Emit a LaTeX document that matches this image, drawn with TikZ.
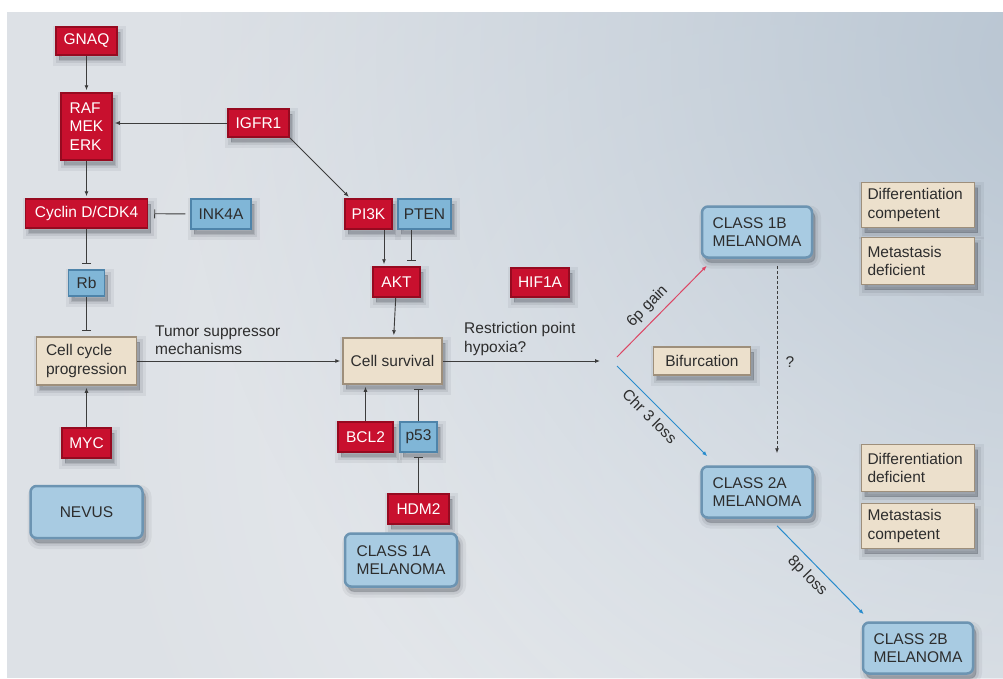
\documentclass[tikz,border=0pt]{standalone}
\usepackage{fontspec}
\setmainfont{Liberation Sans}
\usetikzlibrary{arrows.meta,fadings}

\definecolor{bgc}{RGB}{221,225,230}
\definecolor{bgtr}{RGB}{184,197,210}
\definecolor{redf}{RGB}{200,16,46}
\definecolor{redd}{RGB}{150,10,32}
\definecolor{bluef}{RGB}{128,182,215}
\definecolor{blued}{RGB}{78,132,170}
\definecolor{melf}{RGB}{168,203,226}
\definecolor{meld}{RGB}{108,148,178}
\definecolor{beigef}{RGB}{236,224,204}
\definecolor{beiged}{RGB}{158,143,123}
\definecolor{txt}{RGB}{45,45,45}
\definecolor{linec}{RGB}{60,60,60}
\definecolor{pinkl}{RGB}{220,70,100}
\definecolor{bluel}{RGB}{40,140,205}
\definecolor{shc}{RGB}{60,65,75}

\tikzfading[name=glowfade, inner color=transparent!0, outer color=transparent!100]

\tikzset{
  softshadow/.style={
    preaction={fill=shc, draw=shc, opacity=0.07, line width=12pt, transform canvas={shift={(3pt,-5pt)}}},
    preaction={fill=shc, draw=shc, opacity=0.10, line width=6pt, transform canvas={shift={(3pt,-5pt)}}},
    preaction={fill=shc, draw=shc, opacity=0.14, line width=1pt, transform canvas={shift={(3pt,-5pt)}}}},
  box/.style={rectangle, align=left, inner sep=2pt, line width=1.5pt, softshadow},
  redbox/.style={box, fill=redf, draw=redd, text=white},
  bluebox/.style={box, fill=bluef, draw=blued, text=txt},
  beigebox/.style={box, fill=beigef, draw=beiged, text=txt},
  propbox/.style={beigebox, inner xsep=6pt, text width=101pt},
  melbox/.style={box, fill=melf, draw=meld, text=txt, rounded corners=6pt, line width=2.5pt},
  lbl/.style={text=txt, align=left, inner sep=0pt},
  arr/.style={draw=linec, line width=0.9pt, -{Latex[length=5pt,width=4pt]}, shorten >=2pt},
  inh/.style={draw=linec, line width=0.9pt, -{Bar[width=9pt,line width=0.9pt]}, shorten >=5pt},
  slab/.style={text=txt, sloped, inner sep=2pt}
}

\begin{document}
\begin{tikzpicture}[x=1pt,y=-1pt, font=\fontsize{15.5}{18.5}\selectfont]
\useasboundingbox (0,0) rectangle (1003,678);
\fill[white] (0,0) rectangle (1003,678);
\fill[bgc] (7,12) rectangle (1003,678);
\begin{scope}
  \clip (7,12) rectangle (1003,678);
  \fill[white, fill opacity=0.45, path fading=glowfade] (780,420) circle (700);
  \fill[bgtr, path fading=glowfade] (1060,60) circle (880);
\end{scope}

% left column
\node[redbox, minimum width=61pt, minimum height=28pt] (gnaq) at (86.5,41) {GNAQ};
\node[redbox, minimum width=51pt, minimum height=67pt] (raf) at (86.5,126.5) {RAF\\MEK\\ERK};
\node[redbox, minimum width=61pt, minimum height=28pt] (igfr) at (258.5,123) {IGFR1};
\node[redbox, minimum width=122pt, minimum height=29pt] (cyclin) at (86.5,213.5) {Cyclin D/CDK4};
\node[bluebox, minimum width=60pt, minimum height=30pt] (ink) at (221,214) {INK4A};
\node[bluebox, minimum width=36pt, minimum height=26pt] (rb) at (86.5,283) {Rb};
\node[beigebox, minimum width=100pt, minimum height=48pt] (ccp) at (86.5,361) {Cell cycle\\progression};
\node[redbox, minimum width=49pt, minimum height=30pt] (myc) at (86.5,443) {MYC};
\node[melbox, minimum width=112pt, minimum height=52pt] (nevus) at (86.5,512) {NEVUS};

% middle column
\node[redbox, minimum width=47pt, minimum height=30pt] (pi3k) at (368.5,214) {PI3K};
\node[bluebox, minimum width=53pt, minimum height=30pt] (pten) at (424.5,214) {PTEN};
\node[redbox, minimum width=47pt, minimum height=30pt] (akt) at (396.5,282) {AKT};
\node[redbox, minimum width=58pt, minimum height=29pt] (hif) at (540,282.5) {HIF1A};
\node[beigebox, minimum width=99pt, minimum height=46pt] (surv) at (392.5,361) {Cell survival};
\node[redbox, minimum width=55pt, minimum height=30pt] (bcl) at (365.5,437) {BCL2};
\node[bluebox, minimum width=37pt, minimum height=30pt] (p53) at (418.5,437) {p53};
\node[redbox, minimum width=61pt, minimum height=30pt] (hdm) at (418.5,509) {HDM2};
\node[melbox, minimum width=112pt, minimum height=53pt] (c1a) at (401,560) {CLASS 1A\\MELANOMA};

\node[lbl, anchor=west] (tsm) at (155,340) {Tumor suppressor\\mechanisms};
\node[lbl, anchor=west] (rph) at (464,339) {Restriction point\\hypoxia?};

% right part
\node[beigebox, minimum width=97pt, minimum height=28pt] (bif) at (702,361) {Bifurcation};
\node[melbox, minimum width=110pt, minimum height=51pt] (c1b) at (757,232) {CLASS 1B\\MELANOMA};
\node[melbox, minimum width=111pt, minimum height=51pt] (c2a) at (757,492) {CLASS 2A\\MELANOMA};
\node[melbox, minimum width=110pt, minimum height=51pt] (c2b) at (918,648) {CLASS 2B\\MELANOMA};
\node[propbox, minimum height=45pt] (dc) at (918,205) {Differentiation\\competent};
\node[propbox, minimum height=47pt] (md) at (918,261) {Metastasis\\deficient};
\node[propbox, minimum height=47pt] (dd) at (918,468) {Differentiation\\deficient};
\node[propbox, minimum height=45pt] (mc) at (918,526) {Metastasis\\competent};
\node[lbl] (q) at (790,362) {?};

% connectors left
\draw[arr] (gnaq) -- (raf);
\draw[arr] (igfr.west) -- (igfr.west -| raf.east);
\draw[arr] (raf) -- (cyclin);
\draw[inh, shorten <=5pt, shorten >=6pt] (ink) -- (cyclin);
\draw[inh] (cyclin) -- (rb);
\draw[inh] (rb) -- (ccp);
\draw[arr] (myc) -- (ccp);
\draw[arr] (ccp.east) -- (surv.west);

% connectors middle
\coordinate (ipk) at ([xshift=6pt]pi3k.north west);
\draw[arr] (igfr.south east) -- (ipk);
\coordinate (k1) at ([xshift=15.5pt]pi3k.south);
\draw[arr] (k1) -- (k1 |- akt.north);
\coordinate (k2) at ([xshift=-13.5pt]pten.south);
\draw[inh] (k2) -- (k2 |- akt.north);
\draw[arr] (akt) -- (surv);
\draw[arr] (bcl.north) -- (bcl.north |- surv.south);
\draw[inh, shorten >=4pt] (p53.north) -- (p53.north |- surv.south);
\draw[inh, shorten >=4pt] (hdm) -- (p53);

% connectors right
\coordinate (fork) at (600,361);
\draw[arr, shorten >=0pt] (surv.east) -- (fork);
\coordinate (f1) at (617,357);
\coordinate (f2) at (617,366);
\coordinate (e1) at ([shift={(6,7)}]c1b.south west);
\coordinate (e2) at ([shift={(7,-9)}]c2a.north west);
\draw[draw=pinkl, line width=1pt, -{Latex[length=5pt,width=4pt]}] (f1) -- node[slab, pos=0.45, above=4pt] {6p gain} (e1);
\draw[draw=bluel, line width=1pt, -{Latex[length=5pt,width=4pt]}] (f2) -- node[slab, pos=0.46, below=4pt] {Chr 3 loss} (e2);
\coordinate (d1) at ([xshift=20pt, yshift=-7pt]c1b.south);
\coordinate (d2) at ([xshift=20pt, yshift=12pt]c2a.north);
\draw[draw=linec, line width=0.9pt, dashed, dash pattern=on 3pt off 2pt, -{Latex[length=5pt,width=4pt]}] (d1) -- (d2);
\coordinate (g1) at ([xshift=20pt, yshift=-7pt]c2a.south);
\coordinate (g2) at ([shift={(2,-7)}]c2b.north west);
\draw[draw=bluel, line width=1pt, -{Latex[length=5pt,width=4pt]}] (g1) -- node[slab, pos=0.46, below=4pt] {8p loss} (g2);
\end{tikzpicture}
\end{document}
